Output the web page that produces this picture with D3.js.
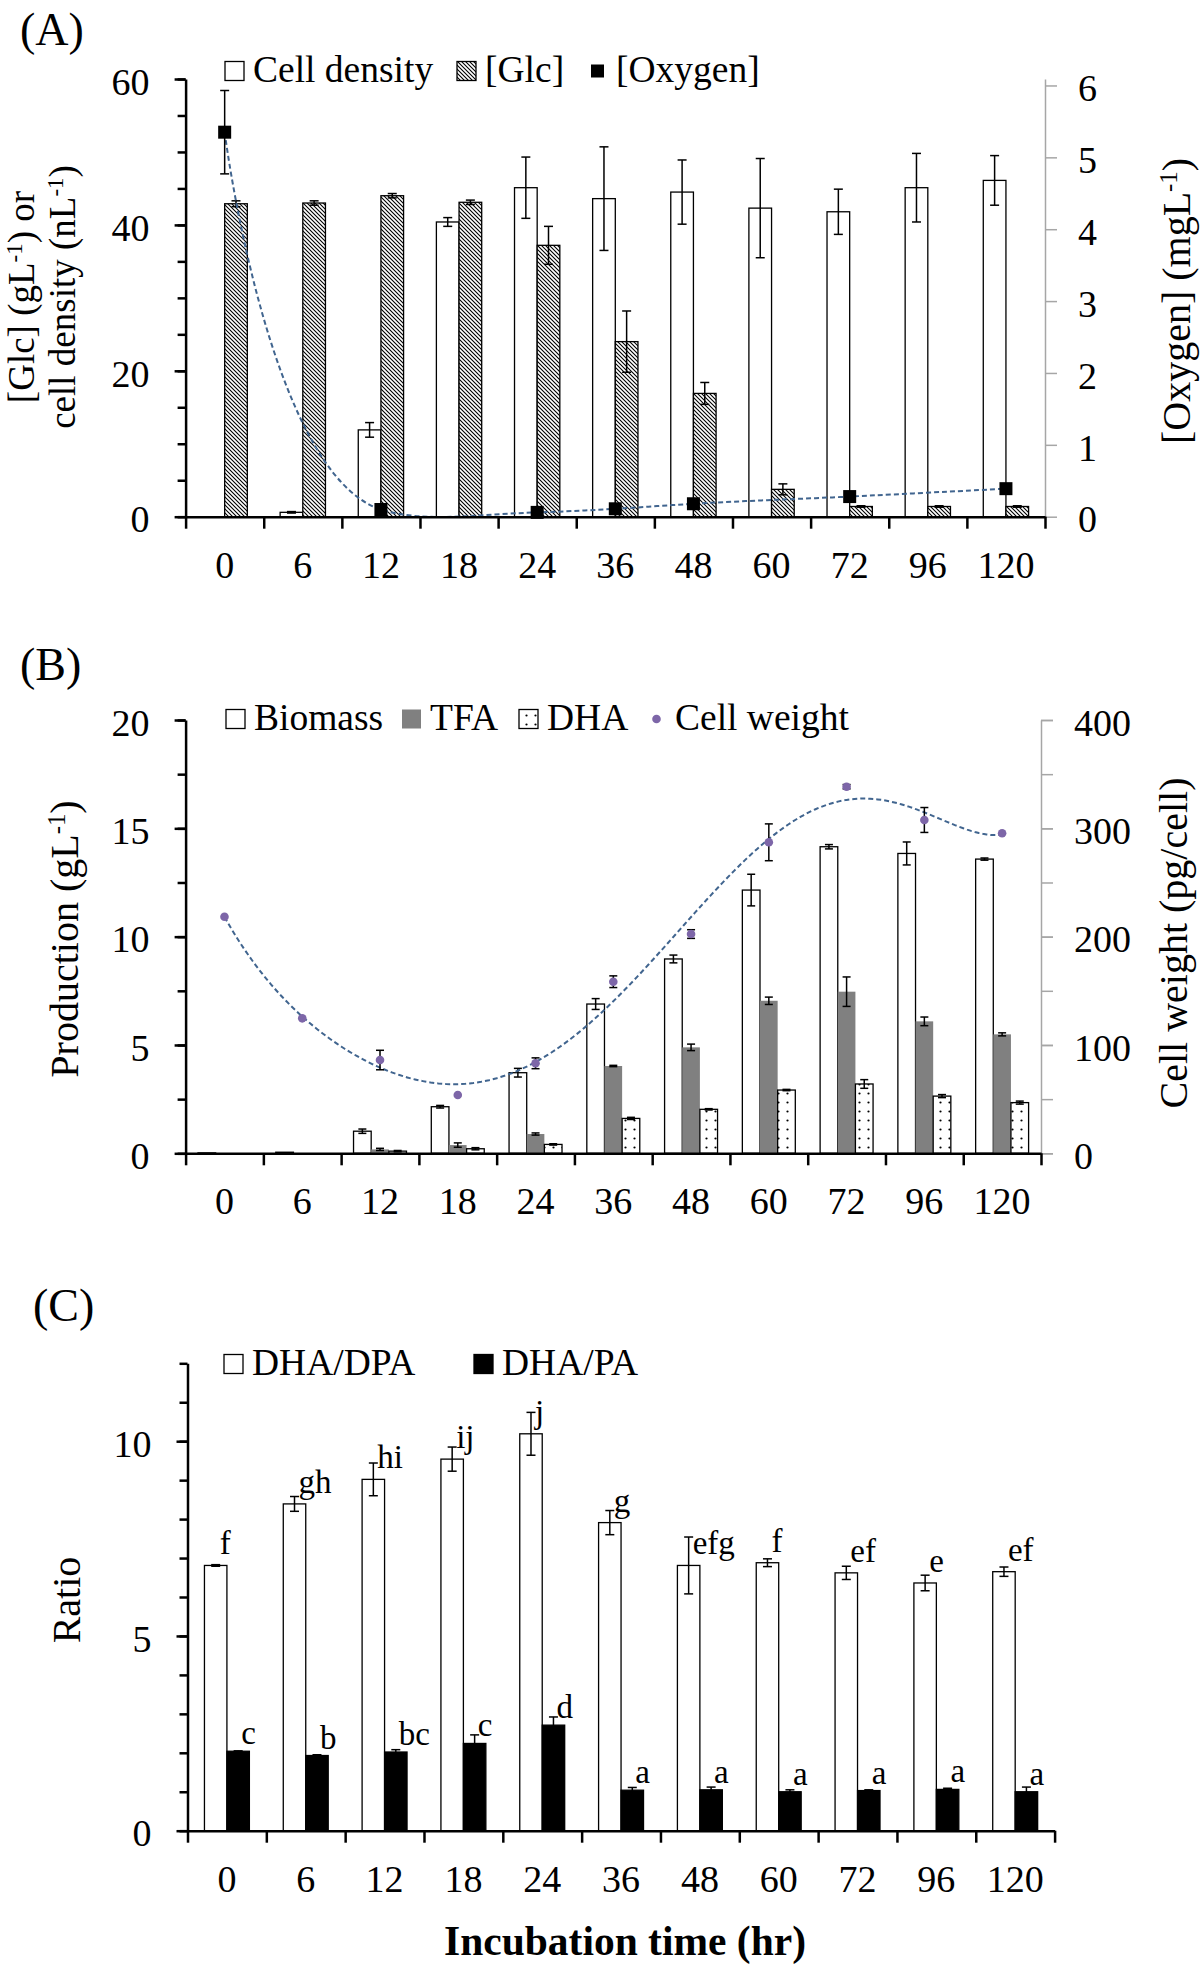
<!DOCTYPE html>
<html>
<head>
<meta charset="utf-8">
<script src="https://cdn.jsdelivr.net/npm/d3@7"></script>
<style>
body { margin: 0; background: #fff; }
svg { display: block; }
svg text { font-family: "Liberation Serif", "Times New Roman", serif; fill: #000; }
</style>
</head>
<body>
<svg id="fig" width="1200" height="1966"></svg>
<script>
var hours = ["0", "6", "12", "18", "24", "36", "48", "60", "72", "96", "120"];

// (A) cell density, glucose, oxygen
var cellDensity    = [0, 0.6, 11.9, 40.4, 45.1, 43.6, 44.5, 42.3, 41.8, 45.1, 46.1];
var cellDensityErr = [0, 0.1, 1.0, 0.6, 4.2, 7.1, 4.4, 6.8, 3.1, 4.7, 3.4];
var glc            = [42.9, 43.0, 44.0, 43.1, 37.2, 24.0, 16.9, 3.75, 1.4, 1.4, 1.4];
var glcErr         = [0.4, 0.3, 0.3, 0.3, 2.6, 4.2, 1.5, 0.75, 0.1, 0.1, 0.1];
var oxyHours       = ["0", "12", "24", "36", "48", "72", "120"];
var oxygen         = [5.35, 0.1, 0.06, 0.11, 0.18, 0.28, 0.39];
var oxygenErr      = [0.58, 0, 0, 0, 0, 0, 0];

// (B) production and cell weight
var biomass       = [0.02, 0.05, 1.02, 2.15, 3.72, 6.89, 8.97, 12.15, 14.15, 13.84, 13.58];
var biomassErr    = [0, 0, 0.1, 0.06, 0.2, 0.25, 0.18, 0.73, 0.1, 0.53, 0.05];
var tfa           = [0, 0, 0.18, 0.38, 0.89, 4.03, 4.89, 7.04, 7.46, 6.09, 5.49];
var tfaErr        = [0, 0, 0.05, 0.1, 0.05, 0.03, 0.15, 0.17, 0.68, 0.2, 0.07];
var dha           = [0, 0, 0.1, 0.21, 0.41, 1.61, 2.03, 2.92, 3.2, 2.64, 2.34];
var dhaErr        = [0, 0, 0.03, 0.05, 0.03, 0.05, 0.03, 0.03, 0.2, 0.07, 0.07];
var cellWeight    = [218.4, 124.6, 86.1, 53.8, 83.1, 158.4, 202.4, 287.1, 338.4, 307.7, 295.4];
var cellWeightErr = [0, 0, 9, 0, 5, 5.4, 4, 17, 2, 11.5, 0];

// (C) ratios
var dhaDpa     = [6.81, 8.39, 9.02, 9.54, 10.19, 7.91, 6.81, 6.88, 6.62, 6.36, 6.65];
var dhaDpaErr  = [0.02, 0.19, 0.42, 0.31, 0.55, 0.31, 0.73, 0.1, 0.17, 0.2, 0.12];
var dhaPa      = [2.04, 1.93, 2.02, 2.24, 2.71, 1.04, 1.05, 1.0, 1.03, 1.06, 1.0];
var dhaPaErr   = [0.01, 0.02, 0.06, 0.22, 0.21, 0.07, 0.07, 0.05, 0.02, 0.03, 0.12];
var dpaLetters = ["f", "gh", "hi", "ij", "j", "g", "efg", "f", "ef", "e", "ef"];
var paLetters  = ["c", "b", "bc", "c", "d", "a", "a", "a", "a", "a", "a"];

var legendA = ["Cell density", "[Glc]", "[Oxygen]"];
var legendB = ["Biomass", "TFA", "DHA", "Cell weight"];
var legendC = ["DHA/DPA", "DHA/PA"];

var svg = d3.select("#fig");
var lineBlue = "#41658f";
var dotPurple = "#7d66a8";
var tickFont = 38, legendFont = 37.5;

var defs = svg.append("defs");
var hatch = defs.append("pattern").attr("id", "hatch").attr("patternUnits", "userSpaceOnUse")
  .attr("width", 4).attr("height", 4);
hatch.append("rect").attr("width", 4).attr("height", 4).attr("fill", "#fff");
hatch.append("path").attr("d", "M-1,-1L5,5M-1,3L1,5M3,-1L5,1").attr("stroke", "#000").attr("stroke-width", 1.1);
var dots = defs.append("pattern").attr("id", "dots").attr("patternUnits", "userSpaceOnUse")
  .attr("width", 9).attr("height", 9);
dots.append("rect").attr("width", 9).attr("height", 9).attr("fill", "#fff");
dots.append("circle").attr("cx", 4.5).attr("cy", 4.5).attr("r", 1.1).attr("fill", "#000");

function styleAxis(g, color) {
  g.attr("font-family", null).attr("font-size", tickFont);
  g.selectAll("path, line").attr("stroke", color);
  g.selectAll("text").attr("fill", "#000");
}

function leftAxis(x0, y, major, minor) {
  var gm = svg.append("g").attr("transform", "translate(" + x0 + ",0)")
    .call(d3.axisLeft(y).tickValues(minor).tickSize(8).tickSizeOuter(0).tickFormat(""));
  gm.select(".domain").remove();
  styleAxis(gm, "#000");
  gm.selectAll("line").attr("stroke-width", 2.5);
  var g = svg.append("g").attr("transform", "translate(" + x0 + ",0)")
    .call(d3.axisLeft(y).tickValues(major).tickSize(11).tickSizeOuter(0).tickPadding(25).tickFormat(d3.format("d")));
  styleAxis(g, "#000");
  g.selectAll("path, line").attr("stroke-width", 2.5);
  g.selectAll("text").attr("dy", "0.4em");
}

function rightAxis(x0, y, major, minor) {
  if (minor) {
    var gm = svg.append("g").attr("transform", "translate(" + x0 + ",0)")
      .call(d3.axisRight(y).tickValues(minor).tickSize(12).tickSizeOuter(0).tickFormat(""));
    gm.select(".domain").remove();
    styleAxis(gm, "#a6a6a6");
    gm.selectAll("line").attr("stroke-width", 1.5);
  }
  var g = svg.append("g").attr("transform", "translate(" + x0 + ",0)")
    .call(d3.axisRight(y).tickValues(major).tickSize(12).tickSizeOuter(0).tickPadding(21).tickFormat(d3.format("d")));
  styleAxis(g, "#a6a6a6");
  g.selectAll("path, line").attr("stroke-width", 1.5);
  g.selectAll("text").attr("dy", "0.4em");
}

function bottomAxis(xb, y0) {
  var n = xb.domain().length;
  var lin = d3.scaleLinear().domain([0, n]).range(xb.range());
  var g = svg.append("g").attr("transform", "translate(0," + y0 + ")")
    .call(d3.axisBottom(lin).tickValues(d3.range(n + 1)).tickSize(12).tickSizeOuter(0).tickFormat(""));
  styleAxis(g, "#000");
  g.selectAll("path, line").attr("stroke-width", 2.5);
  var gl = svg.append("g").attr("transform", "translate(0," + y0 + ")")
    .call(d3.axisBottom(xb).tickSize(0));
  gl.select(".domain").remove();
  styleAxis(gl, "#000");
  gl.selectAll("text").attr("y", 61).attr("dy", null);
}

function bars(xb, y, vals, errs, k, n, frac, fill, stroke, cap) {
  var bw = xb.bandwidth() * frac;
  var g = svg.append("g");
  hours.forEach(function(h, i) {
    var cx = xb(h) + xb.bandwidth() / 2;
    var left = cx - n * bw / 2 + k * bw;
    var v = vals[i];
    if (v > 0) {
      g.append("rect").attr("x", left).attr("y", y(v)).attr("width", bw).attr("height", y(0) - y(v))
        .attr("fill", fill).attr("stroke", stroke).attr("stroke-width", stroke === "none" ? 0 : 1.3);
    }
    if (errs[i] > 0) errBar(g, left + bw / 2, y(v + errs[i]), y(Math.max(0, v - errs[i])), cap);
  });
}

function errBar(g, x, y1, y2, cap) {
  g.append("line").attr("x1", x).attr("x2", x).attr("y1", y1).attr("y2", y2)
    .attr("stroke", "#000").attr("stroke-width", 1.5);
  [y1, y2].forEach(function(yy) {
    g.append("line").attr("x1", x - cap / 2).attr("x2", x + cap / 2).attr("y1", yy).attr("y2", yy)
      .attr("stroke", "#000").attr("stroke-width", 1.5);
  });
}

// starts: left edge of each legend symbol box
function legend(starts, base, names, symbols) {
  names.forEach(function(name, i) {
    symbols[i](starts[i] + 9.5, base - 11);
    svg.append("text").attr("x", starts[i] + 28).attr("y", base).attr("font-size", legendFont).text(name);
  });
}

function box(fill, stroke) {
  return function(cx, cy) {
    svg.append("rect").attr("x", cx - 9.5).attr("y", cy - 9.5).attr("width", 19).attr("height", 19)
      .attr("fill", fill).attr("stroke", stroke).attr("stroke-width", stroke === "none" ? 0 : 1.3);
  };
}

function supTitle(x, y, parts, size) {
  var t = svg.append("text").attr("transform", "translate(" + x + "," + y + ") rotate(-90)")
    .attr("text-anchor", "middle").attr("font-size", size);
  parts.forEach(function(p) {
    var s = t.append("tspan").text(p[0]);
    if (p[1]) s.attr("font-size", size * 0.62).attr("baseline-shift", "super");
  });
  return t;
}

function panelLabel(x, y, s) {
  svg.append("text").attr("x", x).attr("y", y).attr("font-size", 46).text(s);
}

// least squares polynomial (Excel-style trendline on category positions 1..n)
function polyfit(xs, ys, order) {
  var n = order + 1, A = [], b = [];
  for (var r = 0; r < n; r++) { A.push(new Array(n).fill(0)); b.push(0); }
  xs.forEach(function(x, i) {
    for (var r = 0; r < n; r++) {
      for (var c = 0; c < n; c++) A[r][c] += Math.pow(x, r + c);
      b[r] += ys[i] * Math.pow(x, r);
    }
  });
  for (var k = 0; k < n; k++) {
    var p = k;
    for (var r = k + 1; r < n; r++) if (Math.abs(A[r][k]) > Math.abs(A[p][k])) p = r;
    var tmp = A[k]; A[k] = A[p]; A[p] = tmp;
    var tb = b[k]; b[k] = b[p]; b[p] = tb;
    for (var r = k + 1; r < n; r++) {
      var f = A[r][k] / A[k][k];
      for (var c = k; c < n; c++) A[r][c] -= f * A[k][c];
      b[r] -= f * b[k];
    }
  }
  var coef = new Array(n).fill(0);
  for (var r = n - 1; r >= 0; r--) {
    var s = b[r];
    for (var c = r + 1; c < n; c++) s -= A[r][c] * coef[c];
    coef[r] = s / A[r][r];
  }
  return function(x) {
    var v = 0;
    for (var i = n - 1; i >= 0; i--) v = v * x + coef[i];
    return v;
  };
}

// ---------------- (A)
panelLabel(20, 45, "(A)");
var xA = d3.scaleBand().domain(hours).range([185.6, 1045]);
var yA = d3.scaleLinear().domain([0, 60]).range([516.7, 79]);
var yA2 = d3.scaleLinear().domain([0, 6.09]).range([516.7, 79]);

bars(xA, yA, cellDensity, cellDensityErr, 0, 2, 0.29, "#fff", "#000", 9);
bars(xA, yA, glc, glcErr, 1, 2, 0.29, "url(#hatch)", "#000", 9);

var oxyPts = oxyHours.map(function(h, i) {
  return { x: xA(h) + xA.bandwidth() / 2, v: oxygen[i], e: oxygenErr[i] };
});
svg.append("path").datum(oxyPts)
  .attr("d", d3.line().x(function(d) { return d.x; }).y(function(d) { return yA2(d.v); }).curve(d3.curveCatmullRom.alpha(1)))
  .attr("fill", "none").attr("stroke", lineBlue).attr("stroke-width", 2).attr("stroke-dasharray", "5,3");
var gO = svg.append("g");
oxyPts.forEach(function(d) {
  if (d.e > 0) errBar(gO, d.x, yA2(d.v + d.e), yA2(d.v - d.e), 9);
  gO.append("rect").attr("x", d.x - 6.5).attr("y", yA2(d.v) - 6.5).attr("width", 13).attr("height", 13).attr("fill", "#000");
});

leftAxis(185.6, yA, [0, 20, 40, 60], d3.range(0, 61, 5));
rightAxis(1045, yA2, [0, 1, 2, 3, 4, 5, 6]);
bottomAxis(xA, 516.7);

legend([225, 457, 588], 82, legendA, [box("#fff", "#000"), box("url(#hatch)", "#000"), function(cx, cy) {
  svg.append("rect").attr("x", cx - 6.5).attr("y", cy - 6.5).attr("width", 13).attr("height", 13).attr("fill", "#000");
}]);

var tA = svg.append("text").attr("transform", "translate(34,297) rotate(-90)").attr("text-anchor", "middle").attr("font-size", 37);
tA.append("tspan").text("[Glc] (gL");
tA.append("tspan").attr("font-size", 23).attr("baseline-shift", "super").text("-1");
tA.append("tspan").text(") or");
supTitle(75, 297, [["cell density (nL"], ["-1", true], [")"]], 37);
supTitle(1190, 301, [["[Oxygen] (mgL"], ["-1", true], [")"]], 40);

// ---------------- (B)
panelLabel(20, 680, "(B)");
var xB = d3.scaleBand().domain(hours).range([185.6, 1041]);
var yB = d3.scaleLinear().domain([0, 20]).range([1153.3, 720]);
var yB2 = d3.scaleLinear().domain([0, 400]).range([1153.3, 720]);

bars(xB, yB, biomass, biomassErr, 0, 3, 0.227, "#fff", "#000", 8);
bars(xB, yB, tfa, tfaErr, 1, 3, 0.227, "#808080", "none", 8);
bars(xB, yB, dha, dhaErr, 2, 3, 0.227, "url(#dots)", "#000", 8);

var idxB = d3.scaleLinear().domain([1, 11])
  .range([xB(hours[0]) + xB.bandwidth() / 2, xB(hours[10]) + xB.bandwidth() / 2]);
var trend = polyfit(d3.range(1, 12), cellWeight, 6);
svg.append("path").datum(d3.range(1, 11.001, 0.05))
  .attr("d", d3.line().x(function(t) { return idxB(t); }).y(function(t) { return yB2(trend(t)); }))
  .attr("fill", "none").attr("stroke", lineBlue).attr("stroke-width", 2).attr("stroke-dasharray", "5,3");
var gW = svg.append("g");
hours.forEach(function(h, i) {
  var cx = xB(h) + xB.bandwidth() / 2;
  if (cellWeightErr[i] > 0) errBar(gW, cx, yB2(cellWeight[i] + cellWeightErr[i]), yB2(cellWeight[i] - cellWeightErr[i]), 8);
  gW.append("circle").attr("cx", cx).attr("cy", yB2(cellWeight[i])).attr("r", 4.3).attr("fill", dotPurple);
});

leftAxis(185.6, yB, [0, 5, 10, 15, 20], d3.range(0, 20.1, 2.5));
rightAxis(1041, yB2, [0, 100, 200, 300, 400], d3.range(0, 401, 50));
bottomAxis(xB, 1153.3);

legend([226, 402, 519, 647], 730, legendB, [box("#fff", "#000"), box("#808080", "none"), box("url(#dots)", "#000"), function(cx, cy) {
  svg.append("circle").attr("cx", cx).attr("cy", cy).attr("r", 4.3).attr("fill", dotPurple);
}]);

supTitle(78, 939, [["Production (gL"], ["-1", true], [")"]], 40);
supTitle(1187, 943, [["Cell weight (pg/cell)"]], 40);

// ---------------- (C)
panelLabel(33, 1321, "(C)");
var xC = d3.scaleBand().domain(hours).range([187.5, 1054.6]);
var yC = d3.scaleLinear().domain([0, 12]).range([1830.7, 1363.3]);
var fracC = 0.285;

bars(xC, yC, dhaDpa, dhaDpaErr, 0, 2, fracC, "#fff", "#000", 9);
bars(xC, yC, dhaPa, dhaPaErr, 1, 2, fracC, "#000", "#000", 9);

var bwC = xC.bandwidth() * fracC;
var gL = svg.append("g").attr("font-size", 33);
hours.forEach(function(h, i) {
  var cx = xC(h) + xC.bandwidth() / 2;
  gL.append("text").attr("x", cx - bwC / 2 + 4).attr("y", yC(dhaDpa[i]) - 11).text(dpaLetters[i]);
  gL.append("text").attr("x", cx + bwC / 2 + 3).attr("y", yC(dhaPa[i]) - 7).text(paLetters[i]);
});

leftAxis(187.5, yC, [0, 5, 10], d3.range(0, 13, 1));
bottomAxis(xC, 1830.7);

legend([224, 474], 1375, legendC, [box("#fff", "#000"), box("#000", "#000")]);

supTitle(80, 1600, [["Ratio"]], 40);
svg.append("text").attr("x", 625).attr("y", 1955).attr("text-anchor", "middle")
  .attr("font-size", 41.5).attr("font-weight", "bold").text("Incubation time (hr)");
</script>
</body>
</html>
